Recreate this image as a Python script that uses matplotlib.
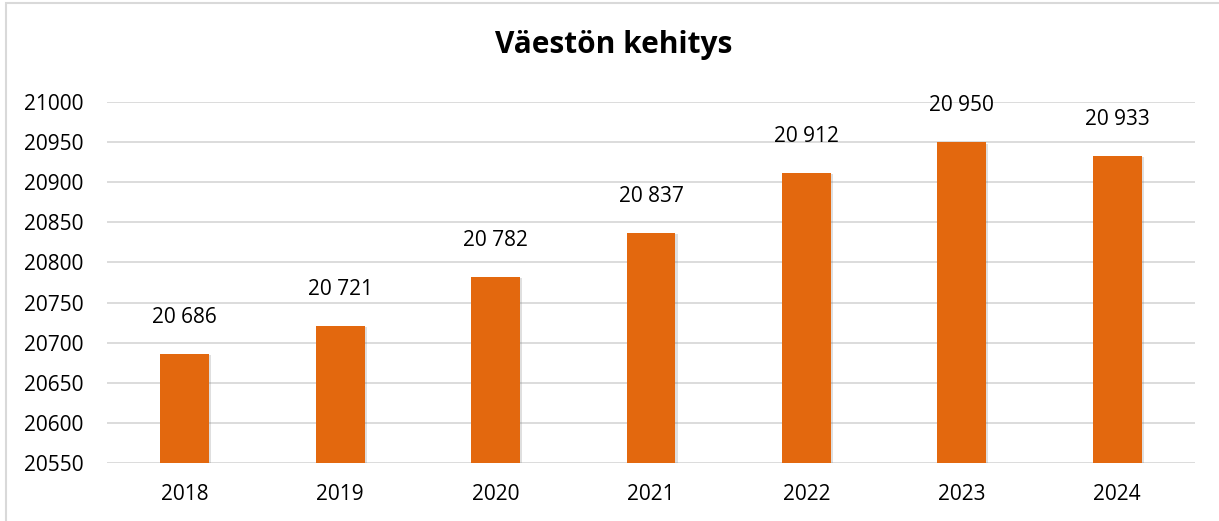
import matplotlib
matplotlib.use("Agg")
import matplotlib.pyplot as plt
import matplotlib.patheffects as pe
from matplotlib.patches import Rectangle

years = ["2018", "2019", "2020", "2021", "2022", "2023", "2024"]
population = [20686, 20721, 20782, 20837, 20912, 20950, 20933]
yticks = [20550, 20600, 20650, 20700, 20750, 20800, 20850, 20900, 20950, 21000]
title = "Väestön kehitys"

plt.rcParams['font.family'] = ['Open Sans', 'DejaVu Sans']

W, H = 1219, 521
fig = plt.figure(figsize=(W / 100, H / 100), dpi=100)

# outer chart border (light gray)
fig.patches.append(Rectangle((6 / W, -0.1), 1.2, (H - 3) / H + 0.1, transform=fig.transFigure,
                             fill=False, edgecolor='#D9D9D9', linewidth=1.5))

ax = fig.add_axes([107 / W, (H - 463) / H, (1195 - 107) / W, (463 - 102) / H])
x = list(range(len(years)))
bars = ax.bar(x, [v - yticks[0] for v in population], bottom=yticks[0], width=0.315,
              color='#E3680E', zorder=3)
for b in bars:
    b.set_path_effects([pe.SimplePatchShadow(offset=(1.5, -1), alpha=0.25, shadow_rgbFace='#808080'),
                        pe.Normal()])

ax.set_xlim(-0.5, len(years) - 0.5)
ax.set_ylim(yticks[0], yticks[-1])
ax.set_yticks(yticks)
ax.set_yticklabels([str(v) for v in yticks])
ax.set_xticks(x)
ax.set_xticklabels(years)
ax.tick_params(axis='both', length=0, labelsize=15, colors='#000000')
ax.tick_params(axis='y', pad=17)
ax.tick_params(axis='x', pad=15)
ax.grid(axis='y', color='#D9D9D9', linewidth=1.3, zorder=0)
for s in ax.spines.values():
    s.set_visible(False)

for xi, v in zip(x, population):
    ax.annotate(f"{v:,}".replace(",", " "), (xi, v), xytext=(0, 26), textcoords='offset points',
                ha='center', va='center', fontsize=15, color='#000000')

fig.text(614 / W, 1 - 45 / H, title, ha='center', va='center', fontsize=21.5, fontweight='bold',
         color='#000000')

fig.savefig("out.png", dpi=100)
